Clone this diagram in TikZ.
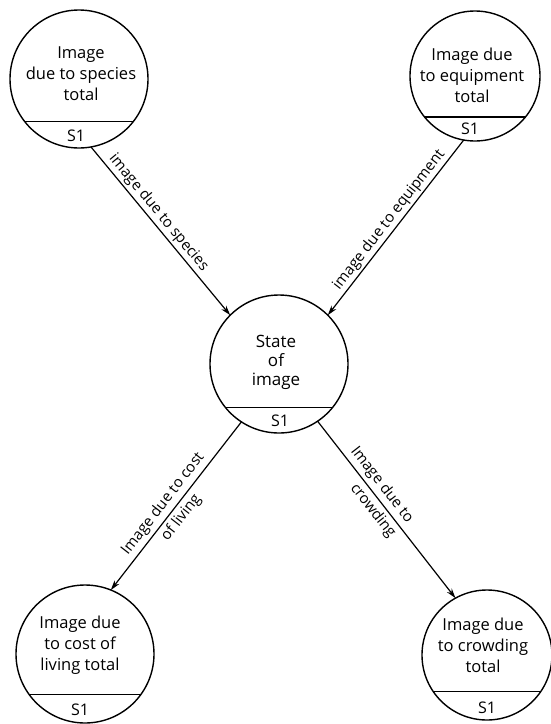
\documentclass[tikz,border=0pt]{standalone}
\usepackage{fontspec}
\setmainfont{Open Sans}
\usetikzlibrary{arrows.meta}
\begin{document}
\begin{tikzpicture}[x=1pt,y=-1pt,
  proc/.style={circle, draw, line width=1.4pt, inner sep=0pt, outer sep=0pt},
  chord/.style={line width=1.4pt},
  intext/.style={align=center, font=\fontsize{16.5}{21}\selectfont, inner sep=0pt},
  sid/.style={font=\fontsize{16}{18}\selectfont, inner sep=0pt},
  flow/.style={line width=1.2pt, -{Stealth[length=10pt,width=6pt]}},
  elabel/.style={sloped, font=\fontsize{15}{18}\selectfont, inner sep=2pt},
  elabel2/.style={elabel, align=center, font=\fontsize{15}{23}\selectfont},
]
\useasboundingbox (0,0) rectangle (550,724);
% processes
\node[proc, minimum size=138] (tl) at (79,79) {};
\draw[chord] (tl.-38.6) -- (tl.218.6);
\node[intext] (tlt) at (81,74) {Image\\due to species\\total};
\node[sid] (tls) at (76,136) {S1};

\node[proc, minimum size=130] (tr) at (475,76) {};
\draw[chord] (tr.-39) -- (tr.219);
\node[intext] (trt) at (472,75) {Image due\\to equipment\\total};
\node[sid] (trs) at (470,129) {S1};

\node[proc, minimum size=138] (c) at (279,364) {};
\draw[chord] (c.-39.6) -- (c.219.6);
\node[intext, font=\fontsize{17}{19}\selectfont] (ct) at (276,362) {State\\of\\image};
\node[sid] (cs) at (280,421) {S1};

\node[proc, minimum size=138] (bl) at (85,654) {};
\draw[chord] (bl.-36.5) -- (bl.216.5);
\node[intext] (blt) at (80,645) {Image due\\to cost of\\living total};
\node[sid] (bls) at (80,710) {S1};

\node[proc, minimum size=130] (br) at (487,655) {};
\draw[chord] (br.-34.7) -- (br.214.7);
\node[intext] (brt) at (483,645) {Image due\\to crowding\\total};
\node[sid] (brs) at (487,708) {S1};

% flows
\draw[flow] (tl.-80) -- node[elabel, above, pos=0.43] (e1) {image due to species} (c.135);
\draw[flow] (tr.-100) -- node[elabel, above, pos=0.49] (e2) {image due to equipment} (c.45);
\draw[flow] (c.-123.5) -- node[elabel2, pos=0.53] (e3) {Image due to cost\\of living} (bl.68);
\draw[flow] (c.-56.8) -- node[elabel2, pos=0.40] (e4) {Image due to\\\hspace*{30pt}crowding} (br.119);
\end{tikzpicture}
\end{document}
